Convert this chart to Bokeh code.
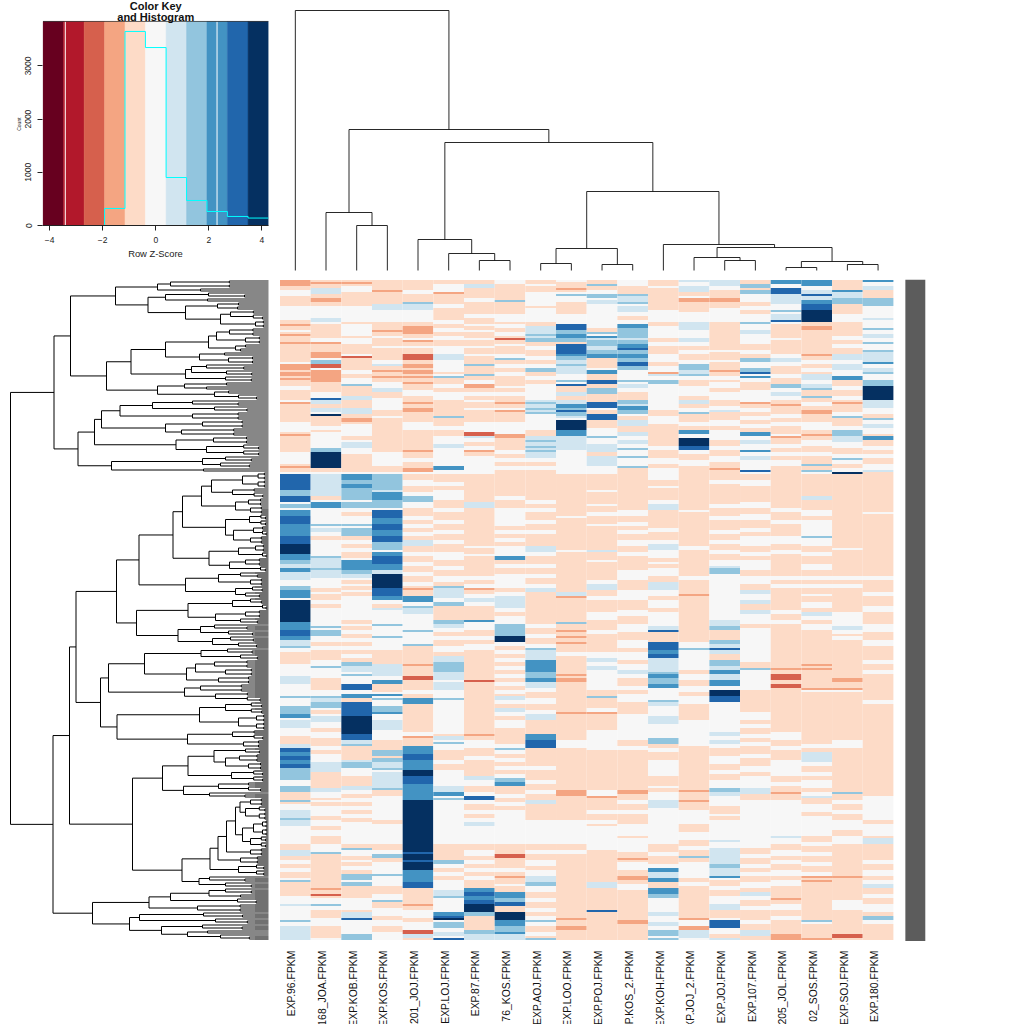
from bokeh.plotting import figure
from bokeh.layouts import column, row
from bokeh.models import Range1d, LinearColorMapper, FixedTicker
from bokeh.transform import transform
from bokeh.core.properties import value
from bokeh.embed import file_html
from bokeh.resources import INLINE

FONT = "Liberation Sans"
PALETTE = ["#67001F", "#B2182B", "#D6604D", "#F4A582", "#FDDBC7", "#F7F7F7",
           "#D1E5F0", "#92C5DE", "#4393C3", "#2166AC", "#053061"]
LEVEL_Z = {"s": -2.3, "r": -1.55, "o": -0.78, "w": 0.0, "b": 0.78, "c": 1.55, "d": 2.3, "e": 3.1, "f": 3.9}
N_ROWS = 330

COLUMN_NAMES = ["EXP.96.FPKM", "168_JOA.FPKM", "EXP.KOB.FPKM", "EXP.KOS.FPKM", "201_JOJ.FPKM",
                "EXP.LOJ.FPKM", "EXP.87.FPKM", "76_KOS.FPKM", "EXP.AOJ.FPKM", "EXP.LOO.FPKM",
                "EXP.POJ.FPKM", "EXP.KOS_2.FPKM", "EXP.KOH.FPKM", "EXP.JOJ_2.FPKM", "EXP.JOJ.FPKM",
                "EXP.107.FPKM", "205_JOL.FPKM", "02_SOS.FPKM", "EXP.SOJ.FPKM", "EXP.180.FPKM"]

# each column: "<first row><level>" events, a level lasts until the next event
C01 = "0r 3o 5w 8o 13w 20o 22r 23o 25w 26o 27r 28o 31r 32o 41w 42r 45o 46r 48o 49r 50o 53w 55o 60w 61r 62o 71w 76o 77r 78o 86w 92o 93r 94o 96w 97e 105c 108e 111w 112c 114w 115d 118e 122d 128e 132f 137d 140c 142b 144d 146b 150w 153c 155d 159w 160f 171d 175e 178d 180b 183c 184w 186o 192w 198b 202w 208c 209w 213c 217d 219w 220b 224w 228o 232b 234e 236d 238e 240d 242e 244c 246c 250w 253c 256o 260c 261o 262w 265b 269c 270b 273w 282o 285b 288o 290w 292o 294w 296o 299w 300c 301o 308w 312b 313w 320c 321w 323b"
C02 = "0o 1r 2o 4b 7o 9r 11o 13w 19b 21w 22o 29w 31r 32o 36r 39w 40c 42s 44w 45r 51o 56w 59e 60b 62o 64b 66w 67f 68o 73w 75o 76w 84c 86f 94o 96w 97b 108o 110w 111d 114w 122c 123w 124b 126w 128o 130w 133w 138c 139b 141b 144c 145b 147b 149w 154o 156w 157o 160w 162o 164w 165w 173c 174w 175c 178w 181o 183w 185o 190w 193c 194w 199o 205w 208c 209b 211c 214w 215o 217w 218b 221w 224o 226w 229o 233w 235o 237w 241b 244b 246o 254b 256w 259o 260w 261o 263w 268o 270w 273o 275w 278o 282w 286c 287o 291o 302o 304r 305o 307s 308o 309w 312c 313w 315o 319w 323o 329w"
C03 = "0o 1r 2o 3w 6o 13w 21o 22w 28o 29w 32o 37w 38s 39o 40o 45w 47o 49w 52c 53o 58b 60o 64b 67o 69r 71o 72w 78o 80w 81b 84w 87o 92o 96w 97d 100c 102d 104c 108c 110w 111c 114w 116o 118w 122c 123w 124c 128o 130w 132o 134w 136o 139w 140d 145c 147b 149w 150o 152w 153o 155w 156o 158w 161w 170o 172w 173o 175w 177o 179w 181o 183w 185o 187w 189o 191c 193b 196w 197c 198w 202e 205w 207d 209o 211e 218f 227e 230b 232c 233o 240b 241c 244w 246w 248o 253b 255w 257o 259w 261o 263w 265o 267w 269o 271w 273w 282o 284c 285w 288o 290w 291o 293w 295o 297c 300w 301c 303o 309w 315o 316b 319e 320w 327c"
C04 = "0o 5r 6o 12b 15w 21o 25r 26o 28w 29o 33w 34o 40w 42b 43o 45r 46o 48r 49o 51w 54b 56o 59w 65o 68w 69o 75o 80o 86w 93o 96w 97c 105b 106d 108d 110c 114w 115e 119d 122e 125d 128e 131c 135w 136d 138e 140e 142d 145b 147f 154e 158d 160w 162o 164b 165w 172c 173w 178c 179w 185o 190o 192b 194b 198w 200d 202o 206w 207d 208w 209c 210w 213c 216d 217w 220b 225w 230o 235c 238o 239c 241b 244c 245w 246b 254c 255o 258w 260w 270o 272w 282o 285w 287c 289o 291w 294w 297c 298w 303o 307w 310c 311o 314w 318o 320w 323o 326w"
C05 = "0o 5w 7o 11c 12b 15w 21o 23r 27o 29w 30r 31o 33w 34o 37s 40o 42r 44o 45r 47o 48r 49o 51r 52o 55w 58o 61r 62o 64r 66o 71w 75o 85r 86o 89w 91o 94r 96w 97o 100w 103o 106w 108c 111w 114o 118w 120o 122w 124o 126w 128o 130b 133o 136w 138o 141w 143o 146w 148o 151w 153o 154r 155o 158d 161w 163c 164b 167w 175c 176w 182c 183o 189o 192r 193o 198s 200o 205w 207o 209d 212o 220o 226w 228r 229o 233d 237e 240d 245f 248e 252d 260f 286e 287f 290e 291f 295d 298d 301e 304o 312r 313o 315w 319o 321w 325s 327b 329o"
C06 = "0o 2w 6r 7o 12w 14o 20w 22o 24w 26o 28w 30o 33w 37b 40w 46o 47w 48c 49o 52w 54o 56w 60o 68c 69o 73w 75o 78w 82b 84w 93d 95w 97o 101w 103o 105w 108w 110o 114w 116o 120w 122o 125w 127o 130w 132o 136w 140o 143w 145o 148w 151o 153c 154b 159w 161c 163o 170c 172b 174w 176o 178w 180o 183w 186o 188b 191c 193c 196b 200w 201b 205w 209c 210w 220w 227o 228b 230w 231c 232w 235o 240w 242o 245w 253b 256d 258w 259c 260w 273w 282o 286o 290c 292w 294o 296w 298o 300w 305b 308c 309w 316d 318e 319f 320w 321c 324w 326b 328w 329e"
C07 = "0o 2b 4o 9w 11o 17w 19o 22w 23o 25w 26o 29w 30o 33w 34o 37w 38o 42c 43o 47c 48o 50w 52r 54o 56w 58o 60w 61o 64w 65o 68o 71w 76s 78b 79w 81o 83w 85r 86o 88w 96w 97o 108o 111b 114o 133w 134o 137w 138o 148w 150o 152w 154r 155o 157w 159b 161w 163o 170d 171w 175o 178w 180o 182w 185o 200s 201o 205o 226o 227r 228o 230w 234o 238w 240o 246o 248b 250w 253o 256w 258e 260w 262o 265w 267o 269w 271b 273w 282o 285w 288o 290w 292o 294w 296o 298w 300o 304d 306e 308d 310e 312f 316c 318o 325c 327b"
C08 = "0w 2o 5o 10c 11o 17w 21o 22w 24o 26w 28o 29s 30o 32w 33o 37w 39c 40o 42w 44o 46w 48o 53w 54o 56w 58o 61r 62o 64w 65r 66o 71w 75w 77r 79o 85w 87o 89w 91o 93w 95o 97o 108w 110o 114w 123o 125w 127o 129w 131o 133w 137w 138d 140o 142w 144o 147w 152w 154o 156w 158b 164w 166o 168w 170w 172c 174c 178f 181w 183o 185w 187o 189w 191o 193w 195o 197w 199o 201w 203o 205w 207o 208b 210w 212o 214b 216w 218o 220w 224o 229o 232w 234c 235w 237o 239w 241o 243w 245o 247w 249c 251d 253o 257w 259o 261w 263o 265w 270w 282o 287s 289o 294w 296o 298r 299o 302w 303o 306d 309c 311e 313o 316f 320d 323c 326d 327b"
C09 = "0o 2w 3o 6w 13o 14w 21o 23b 27c 28b 29c 31o 33w 35o 38w 40o 42w 44c 46o 48w 50o 52w 60b 61c 62b 64c 65b 66c 67w 75o 78b 80c 81b 83c 84b 85c 86b 89w 91o 93w 95o 97o 108o 110w 112o 114w 116o 120w 122o 125w 127o 130o 133b 136w 138o 142w 144o 147w 149o 152w 154b 156o 166o 172w 174o 177w 179o 182w 184c 185b 187b 190d 196c 199d 201b 204w 206o 209w 212o 215w 217b 220o 225o 227d 230e 234o 240o 243w 245o 250w 252o 255w 257o 260b 262o 265o 270w 282o 285w 287o 290w 293o 295w 298b 301c 303w 306o 309w 311o 314w 316o 318w 320c 321w 323o 326w 328o 329c"
C10 = "0w 1o 4r 5o 6w 7c 8w 11o 14o 17w 22e 25c 27d 29c 31o 32e 37d 38c 40b 42c 43b 47w 50c 51w 52e 53o 56b 58o 60b 62d 64c 65e 66c 68b 69w 70f 75d 78b 82b 85w 95w 97o 108o 118w 119o 135w 136o 155o 156b 158r 159o 170o 171c 172o 175r 176o 178r 179o 180o 181r 182o 186w 188o 197r 198o 199r 201o 205o 215o 216r 217o 220o 230w 234o 255r 258o 270w 282o 285w 287o 319r 320o 323r 325o"
C11 = "0o 2c 3o 5w 7c 9w 10b 12w 22w 24o 26c 27w 28d 29b 30c 33b 35c 37d 39o 44w 45d 47o 50e 52o 54c 57o 61e 64w 65o 67e 70o 74w 78c 79w 82b 86o 88b 93w 97o 105w 106o 112w 113o 116w 118o 122w 123o 135b 136o 140w 141o 150w 152b 155o 158w 160o 166w 170o 175w 177o 186w 189b 191w 193b 195w 200w 205o 208c 209o 213o 214w 216r 217o 220o 225w 230w 235o 247o 255w 258r 259o 265w 267o 270w 272o 273w 285o 298o 301b 304o 312o 315e 316o 325o"
C12 = "0w 3o 7c 8b 11c 12w 13b 16w 18o 20w 22d 24c 29b 30c 32d 34e 35c 37d 39c 40c 41e 43c 45w 50c 51w 52b 54w 56o 60c 62b 63d 65c 67w 68o 70b 73o 76b 78w 80b 82w 84c 85w 88c 89w 93c 94o 97o 108o 115w 118o 121w 123o 125w 127o 130w 133o 136w 138o 145w 150o 155w 160o 165w 168o 172w 176o 180w 184o 186w 190o 192w 195b 197w 199o 203w 205o 207w 211o 217w 220w 230o 233w 235o 255r 257o 260w 262o 265w 267o 270o 272w 278o 279w 282w 286o 289r 290o 291w 295o 298r 300o 302w 305o 313o 320r 322o 325o"
C13 = "0o 3w 4o 13o 15w 21o 23w 29o 31w 33o 37w 41o 43w 46r 47b 48w 50c 52w 59w 65o 68w 72o 75o 80o 83w 85o 89w 92o 94w 100o 103w 104o 108o 110w 112b 115o 120o 124w 126o 130w 132b 135w 139o 141w 142o 144w 148o 151b 155w 158o 160w 164o 166w 173b 175e 176o 181e 185d 187e 189b 193b 196c 197d 199c 202d 204w 210c 211b 213w 216w 218b 220b 222w 229c 232o 234w 236o 240w 248o 253w 254o 256w 260b 264w 271w 282o 286w 288o 292w 294d 296b 299d 301o 304d 307c 309w 316b 318w 321b 323w 325c 328w 329c"
C14 = "0b 1w 3b 6o 8w 9r 11o 16w 21b 25w 29b 31w 33o 35w 37o 40w 42c 45b 47c 48w 50o 53w 58o 60b 62o 64w 66c 67o 71w 73o 75d 77w 79f 83e 85w 87o 90w 93o 97o 108o 115w 116o 133w 135o 148w 150o 157r 158o 181w 184c 185w 190w 195o 197w 200o 203w 206o 208w 212o 220w 233o 255r 256o 260r 261o 265w 270w 272o 276w 280o 283w 285o 288c 289o 291w 295w 299o 301w 303o 319r 320w 323r 325b 329w"
C15 = "0b 3w 5o 9r 11o 14w 21o 30o 35w 36o 40w 41o 45r 46o 48w 50o 51w 54o 56w 60o 63w 65b 66o 70w 73o 75w 80o 83w 85o 88w 91o 94r 95o 97o 100w 102o 108o 112w 114o 118w 120o 125w 127o 130w 132o 135w 137o 140w 143b 144c 147w 160w 170b 173c 175o 180c 182b 184e 185b 187o 190c 193b 195d 197b 200d 203w 205f 208e 211w 220w 226b 228w 230b 232w 234o 238w 242o 245w 247o 250w 254c 256b 258w 263o 267w 268o 270w 280b 281w 284b 287b 292c 294b 298d 299w 300o 303w 305o 308w 312b 315o 319w 320e 324w 327o 329b"
C16 = "0o 2c 4o 5c 7w 11o 13w 15o 17w 21c 22w 25b 27w 30w 32o 35w 37o 39c 41w 44c 46e 47w 48d 49w 51o 55w 61r 62o 64w 66o 68w 70o 72w 74o 76d 78w 80b 82w 85d 86w 88b 90w 93w 95e 96w 97o 100w 103o 108o 111w 114o 117w 120o 124w 126o 128w 133o 136w 138o 140w 145o 148w 152o 155b 157w 160b 162o 165b 167w 172o 174w 177w 191o 194c 195w 205o 213o 216w 220o 222w 224o 227w 229o 231w 233o 237w 239o 243w 246o 248w 254b 257o 260w 270w 284o 287w 289o 292w 294o 296w 298o 301w 304o 306b 308w 310o 313w 315o 320w 322o 325b 328o"
C17 = "0d 2w 4e 7b 12w 15c 16w 17b 20e 21w 22o 29w 30o 37w 39b 41w 43o 47w 49o 52c 54w 56b 58w 60o 62r 63o 67w 69o 71w 73o 77w 78r 79o 82w 84o 86w 88o 90w 93o 97o 108o 114w 116o 120w 122o 128w 132o 135w 137o 148w 150o 152w 154o 165w 167o 170w 172o 175o 190o 192o 194r 195o 197s 200o 202s 204o 212o 220o 226w 230o 233w 235o 240w 246w 248o 251w 253o 256r 257o 260w 265w 270w 278b 279w 282o 285w 288o 290w 292o 295w 298o 300w 303o 309r 310o 312w 315o 318w 320o 327r"
C18 = "0d 3w 5b 7e 8b 10d 12e 15f 21o 23r 25o 37r 38o 40w 42o 44w 46o 47b 50w 52b 54c 55o 58c 59o 61w 63o 65r 67o 71w 75o 77r 78o 80w 83o 86w 88o 92c 93o 95c 96w 97o 108b 110o 115w 118o 120w 128c 129w 133o 136w 138o 142w 145o 148w 150o 152w 154o 157w 158o 161w 164o 166b 168w 170o 172w 175o 192r 193o 194r 195o 204r 205w 206o 214o 220o 232w 234o 236b 241w 243o 246w 248o 250w 254o 256w 258b 259o 262w 266o 268w 270w 278o 281w 283o 286w 288o 291w 293o 296w 298r 299o 300r 301o 320c 321w 322o 329r"
C19 = "0o 5d 6b 9c 12o 17w 21o 28w 30o 32w 34o 37b 40w 42b 45w 48d 50o 53w 55o 58w 60o 61r 62o 66w 68c 69o 73w 75c 78b 81w 84o 87w 89c 90w 92o 94w 96f 97o 108o 134w 135o 148w 150o 152w 154o 166w 173b 175w 177o 178w 180o 197o 199r 201o 204r 205w 206o 212o 220o 230w 234o 256c 257o 260w 262o 265w 267o 270w 275o 278w 282o 290o 298r 299o 310w 315o 320o 325o 327s 329o"
C20 = "0d 1w 3b 5o 9c 10c 13w 19b 20w 24c 25w 27b 29w 31c 32w 35c 36b 41d 42w 44b 46c 47w 50c 53f 60b 62b 64w 67o 69c 70w 72b 74w 77o 78d 80o 83w 85o 87w 89o 92w 95b 96o 108o 116w 117o 148w 150o 156w 158o 163w 166o 172w 176o 180w 183o 190w 192o 195w 197o 205o 210w 212o 220o 258w 270o 272w 278o 279b 282o 287o 290w 292o 295w 298o 300w 302b 304o 307w 309o 312w 316o 318c 320w 322o 330w"
COLUMNS = [C01, C02, C03, C04, C05, C06, C07, C08, C09, C10, C11, C12, C13, C14, C15, C16, C17, C18, C19, C20]

# colour key
KEY_BREAKS = [-4.25, -3.48, -2.70, -1.93, -1.16, -0.39, 0.39, 1.16, 1.93, 2.70, 3.48, 4.25]
HIST_COUNTS = [0, 0, 0, 320, 3647, 3345, 902, 470, 263, 170, 140]
KEY_SEAMS = [-3.41, 2.31]
KEY_TOP = 3835

# column dendrogram: (merge height, left, right), a leaf is the column number
COL_TREE = (260, 0, (141, (58, 1, (45, 2, 3)),
            (128, (31, 4, (17, 5, (10, 6, 7))),
             (79, (22, (7, 8, 9), (6, 10, 11)),
              (26, 12, (23, (13, 13, (10, 14, 15)), (9, (3, 16, 17), (6, 18, 19))))))))

# row dendrogram: (position, top, bottom), a two-item tuple is a bundle (position, number of rows)
ROW_A = (53.5,
  (70,
    (115,
      (157, (170, 4), (200, 2)),
      (147.5,
        (165, (208, 3), (207, 2)),
        (185, (217, (238, 2), (237, 2)), (220, (230, 5), (255, 4))))),
    (106,
      (130.5,
        (165, (208, (216, (229, 4), (245, 4)), (235, (245, 2), (240, 2))), (199, (224, 2), (228, 4))),
        (185, (191, (206, 3), (226, 3)), (225, 3))),
      (157, (184, (226, 2), (206, 2)), (214, (228, 2), (238, 3))))),
  (77.5,
    (94,
      (101,
        (119.5, (152, (192, 3), (214, 3)), (192, 4)),
        (165, (202, 4), (181, 4))),
      (175.5, (213, 4), (206, 6))),
    (111, (202, (225, 3), (220, 3)), (203, 2))))
ROW_B1A = (75.5,
  (116,
    (138.5,
      (172.5,
        (182,
          (201, (211, (242, 8), (232, 5)), (235, (248, 4), (250, 4))),
          (225, (249, 6), (233, (253, 5), (250, 4)))),
        (208.5, (238, (255, 4), (262, 3)), (229, (245, 4), (260, 3)))),
      (185, (218, (240, 3), (250, 4)), (235, (252, 3), (245, 3)))),
    (136,
      (187.5, (232, (250, 3), (262, 3)), (215, (245, 4), (240, 3))),
      (177.5, (200, (214, 3), (228, 3)), (212, (230, 3), (238, 3))))),
  (100,
    (108,
      (144,
        (200.5, (227, 3), (240, 3)),
        (186, (195, (214, 4), (225, 4)), (218, 4))),
      (184, (200, 4), (215, 5))),
    (116.5,
      (199, (225, 6), (238, 8)),
      (187, (232, 5), (243, 4)))))
ROW_B1B = (132,
  (162,
    (187.5,
      (213.5, (245, 3), (225, (239, 4), (248, 4))),
      (231, 6)),
    (183, (218, 5), (209, 3))),
  (181.5,
    (209.5,
      (217.5,
        (226,
          (235, (239.5, (250, 4), (245, 7)), (242, (253, 8), (250, 6))),
          (250, 4)),
        (240, 4)),
      (238, 6)),
    (198.5, (209, 3), (225, 3))))
ROW_B2 = (92,
  (148.5, (170, (208.5, (225, 3), (240, 2)), (237, 3)), (197, 4)),
  (129,
    (139, (203, 3), (215, 3)),
    (161, (202, 3), (187, (207, 2), (220, 3)))))
ROW_TREE = (10, ROW_A, (52.5, (69, ROW_B1A, ROW_B1B), ROW_B2))
LEAF_POS = 268


def base(fig):
    fig.axis.visible = False
    fig.grid.visible = False
    fig.outline_line_color = None
    return fig


mapper = LinearColorMapper(palette=PALETTE, low=-4.25, high=4.25)

# ---- colour key
key = figure(frame_width=226, frame_height=225, min_border_left=42, min_border_right=11,
             min_border_top=0, min_border_bottom=54, toolbar_location=None, output_backend="svg",
             x_range=Range1d(-4.27, 4.25), y_range=Range1d(0, 4229))
key.grid.visible = False
key.outline_line_color = None
key.quad(left=KEY_BREAKS[:-1], right=KEY_BREAKS[1:], bottom=0, top=KEY_TOP,
         fill_color=PALETTE, line_color=PALETTE, line_width=0.5)
key.segment(x0=KEY_SEAMS, x1=KEY_SEAMS, y0=0, y1=KEY_TOP, line_color="white", line_width=1)
key.segment(x0=[KEY_BREAKS[0]], x1=[KEY_BREAKS[-1]], y0=[KEY_TOP], y1=[KEY_TOP], line_color="#222222", line_width=0.7)
key.step(x=KEY_BREAKS, y=HIST_COUNTS + [HIST_COUNTS[-1]], mode="after", line_color="cyan", line_width=1)
for ax in (key.xaxis[0], key.yaxis[0]):
    ax.major_tick_line_color = "#222222"
    ax.axis_line_color = "#222222"
    ax.minor_tick_line_color = None
    ax.major_tick_in = 0
    ax.major_tick_out = 5
    ax.major_label_text_font = FONT
    ax.major_label_text_font_size = "8.5px"
    ax.major_label_text_color = "#222222"
    ax.axis_label_text_font = FONT
    ax.axis_label_text_font_style = "normal"
    ax.axis_label_text_color = "#222222"
key.xaxis[0].ticker = FixedTicker(ticks=[-4, -2, 0, 2, 4])
key.xaxis[0].axis_label = "Row Z-Score"
key.xaxis[0].axis_label_text_font_size = "9.4px"
key.xaxis[0].major_label_standoff = 6
key.xaxis[0].axis_label_standoff = 2
key.yaxis[0].ticker = FixedTicker(ticks=[0, 1000, 2000, 3000])
key.yaxis[0].bounds = (0, 3000)
key.yaxis[0].axis_line_color = None
key.yaxis[0].major_label_orientation = "vertical"
key.yaxis[0].axis_label = "Count" + "\u00a0" * 16
key.yaxis[0].axis_label_text_font_size = "5px"
key.yaxis[0].major_label_standoff = 6
key.yaxis[0].axis_label_standoff = 1
key.text(x=[0, 0], y=[4135, 3910], text=["Color Key", "and Histogram"], text_font=value(FONT),
         text_font_size="11px", text_font_style="bold", text_align="center", text_baseline="middle",
         text_color="#111111")

# ---- shared scales
COL_W = 30.67
x_start = -0.5 / COL_W
x_end = x_start + 745 / COL_W


def col_segments(node, segs):
    if isinstance(node, int):
        return node + 0.5, 0
    h, a, b = node
    xa, ha = col_segments(a, segs)
    xb, hb = col_segments(b, segs)
    segs.append((xa, h, xb, h))
    segs.append((xa, ha, xa, h))
    segs.append((xb, hb, xb, h))
    return (xa + xb) / 2, h


def row_bundle(pos, n, r, segs):
    if n == 1:
        return LEAF_POS, r + 0.5, r + 1
    nxt = pos + (LEAF_POS - pos) * 0.6
    return row_segments((pos, (nxt, n // 2), (nxt, n - n // 2)), r, segs)


def row_segments(node, r, segs):
    if len(node) == 2:
        return row_bundle(node[0], node[1], r, segs)
    pos, a, b = node
    pa, ca, r = row_segments(a, r, segs)
    pb, cb, r = row_segments(b, r, segs)
    segs.append((pos, ca, pos, cb))
    segs.append((pos, ca, pa, ca))
    segs.append((pos, cb, pb, cb))
    return pos, (ca + cb) / 2, r


# ---- column dendrogram (nested so that its frame is not aligned with the key's frame)
cd = base(figure(width=745, height=279, min_border=0, toolbar_location=None, output_backend="svg",
                 x_range=Range1d(x_start, x_end), y_range=Range1d(-9, 270)))
segs = []
col_segments(COL_TREE, segs)
cd.segment(x0=[s[0] for s in segs], y0=[s[1] for s in segs], x1=[s[2] for s in segs], y1=[s[3] for s in segs],
           line_color="#111111", line_width=0.9)

# ---- shared row scale
row_range = Range1d(372.25, -0.25)

# ---- row dendrogram
rd = base(figure(width=279, height=745, min_border=0, toolbar_location=None, output_backend="svg",
                 x_range=Range1d(0, 279), y_range=row_range))
segs = []
row_segments(ROW_TREE, 0, segs)
inner = [s for s in segs if s[2] != LEAF_POS]
leaves = [s for s in segs if s[2] == LEAF_POS]
rd.segment(x0=[s[0] for s in inner], y0=[s[1] for s in inner], x1=[s[2] for s in inner], y1=[s[3] for s in inner],
           line_color="#000000", line_width=1.0)
rd.segment(x0=[s[0] for s in leaves], y0=[s[1] for s in leaves], x1=[s[2] for s in leaves], y1=[s[3] for s in leaves],
           line_color="#111111", line_width=1.2)

# ---- heat map
left, right, top, bottom, z = [], [], [], [], []
for j, col in enumerate(COLUMNS):
    events = [(int(t[:-1]), t[-1]) for t in col.split()]
    for k, (start, level) in enumerate(events):
        end = events[k + 1][0] if k + 1 < len(events) else N_ROWS
        if end > start and start < N_ROWS:
            left.append(j)
            right.append(j + 1)
            top.append(start)
            bottom.append(min(end, N_ROWS))
            z.append(LEVEL_Z[level])

hm = base(figure(width=745, height=745, min_border=0, toolbar_location=None, output_backend="svg",
                 x_range=Range1d(x_start, x_end), y_range=row_range))
source = dict(left=left, right=right, top=top, bottom=bottom, z=z)
hm.quad(left="left", right="right", top="top", bottom="bottom", source=source,
        fill_color=transform("z", mapper), line_color=None)
centers = [j + 0.39 for j in range(len(COLUMN_NAMES))]
hm.text(x=centers, y=[335.3] * len(centers), text=COLUMN_NAMES, angle=1.5708,
        text_align="right", text_baseline="middle", text_font=value(FONT),
        text_font_size="10.4px", text_color="#111111")
hm.quad(left=[20.39], right=[21.04], top=[-0.25], bottom=[330.5], fill_color="#5c5c5c", line_color=None)

layout = column(row(key, column(cd)), row(rd, hm))
open("out.html", "w").write(file_html(layout, INLINE))
